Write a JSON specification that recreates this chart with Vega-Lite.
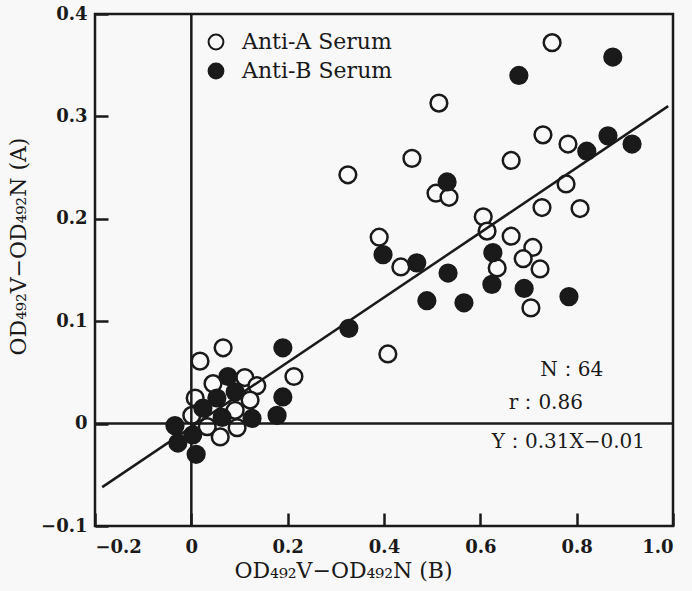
{
  "$schema": "https://vega.github.io/schema/vega-lite/v6.json",
  "width": 578,
  "height": 512,
  "autosize": {"type": "none"},
  "padding": {"left": 95, "top": 14, "right": 19, "bottom": 65},
  "background": "#f8f8f8",
  "config": {
    "view": {"stroke": "#1a1a1a", "strokeWidth": 2.5},
    "font": "DejaVu Serif",
    "axis": {
      "grid": false,
      "domain": false,
      "ticks": true,
      "zindex": 2,
      "offset": -13,
      "tickSize": 13,
      "tickWidth": 2.5,
      "tickColor": "#1a1a1a",
      "tickOpacity": 1,
      "labelFont": "DejaVu Serif",
      "labelFontSize": 18,
      "labelFontWeight": "bold",
      "labelColor": "#1a1a1a",
      "labelPadding": 8,
      "titleFont": "DejaVu Serif",
      "titleFontSize": 22,
      "titleFontWeight": "normal",
      "titleColor": "#1a1a1a"
    },
    "legend": {
      "labelFont": "DejaVu Serif",
      "labelFontSize": 22,
      "labelColor": "#1a1a1a"
    }
  },
  "datasets": {
    "pts": [
      {"x": 0.749, "y": 0.372, "serum": "Anti-A Serum"},
      {"x": 0.514, "y": 0.313, "serum": "Anti-A Serum"},
      {"x": 0.325, "y": 0.243, "serum": "Anti-A Serum"},
      {"x": 0.730, "y": 0.282, "serum": "Anti-A Serum"},
      {"x": 0.782, "y": 0.273, "serum": "Anti-A Serum"},
      {"x": 0.664, "y": 0.257, "serum": "Anti-A Serum"},
      {"x": 0.458, "y": 0.259, "serum": "Anti-A Serum"},
      {"x": 0.508, "y": 0.225, "serum": "Anti-A Serum"},
      {"x": 0.535, "y": 0.221, "serum": "Anti-A Serum"},
      {"x": 0.778, "y": 0.234, "serum": "Anti-A Serum"},
      {"x": 0.728, "y": 0.211, "serum": "Anti-A Serum"},
      {"x": 0.807, "y": 0.210, "serum": "Anti-A Serum"},
      {"x": 0.606, "y": 0.202, "serum": "Anti-A Serum"},
      {"x": 0.614, "y": 0.188, "serum": "Anti-A Serum"},
      {"x": 0.664, "y": 0.183, "serum": "Anti-A Serum"},
      {"x": 0.390, "y": 0.182, "serum": "Anti-A Serum"},
      {"x": 0.435, "y": 0.153, "serum": "Anti-A Serum"},
      {"x": 0.709, "y": 0.172, "serum": "Anti-A Serum"},
      {"x": 0.689, "y": 0.161, "serum": "Anti-A Serum"},
      {"x": 0.724, "y": 0.151, "serum": "Anti-A Serum"},
      {"x": 0.635, "y": 0.152, "serum": "Anti-A Serum"},
      {"x": 0.705, "y": 0.113, "serum": "Anti-A Serum"},
      {"x": 0.408, "y": 0.068, "serum": "Anti-A Serum"},
      {"x": 0.066, "y": 0.074, "serum": "Anti-A Serum"},
      {"x": 0.018, "y": 0.061, "serum": "Anti-A Serum"},
      {"x": 0.213, "y": 0.046, "serum": "Anti-A Serum"},
      {"x": 0.111, "y": 0.045, "serum": "Anti-A Serum"},
      {"x": 0.045, "y": 0.039, "serum": "Anti-A Serum"},
      {"x": 0.136, "y": 0.037, "serum": "Anti-A Serum"},
      {"x": 0.008, "y": 0.025, "serum": "Anti-A Serum"},
      {"x": 0.122, "y": 0.023, "serum": "Anti-A Serum"},
      {"x": 0.091, "y": 0.013, "serum": "Anti-A Serum"},
      {"x": 0.001, "y": 0.008, "serum": "Anti-A Serum"},
      {"x": 0.033, "y": -0.003, "serum": "Anti-A Serum"},
      {"x": 0.095, "y": -0.004, "serum": "Anti-A Serum"},
      {"x": 0.060, "y": -0.013, "serum": "Anti-A Serum"},
      {"x": 0.680, "y": 0.340, "serum": "Anti-B Serum"},
      {"x": 0.875, "y": 0.358, "serum": "Anti-B Serum"},
      {"x": 0.821, "y": 0.266, "serum": "Anti-B Serum"},
      {"x": 0.865, "y": 0.281, "serum": "Anti-B Serum"},
      {"x": 0.915, "y": 0.273, "serum": "Anti-B Serum"},
      {"x": 0.531, "y": 0.236, "serum": "Anti-B Serum"},
      {"x": 0.398, "y": 0.165, "serum": "Anti-B Serum"},
      {"x": 0.468, "y": 0.157, "serum": "Anti-B Serum"},
      {"x": 0.533, "y": 0.147, "serum": "Anti-B Serum"},
      {"x": 0.626, "y": 0.167, "serum": "Anti-B Serum"},
      {"x": 0.624, "y": 0.136, "serum": "Anti-B Serum"},
      {"x": 0.691, "y": 0.132, "serum": "Anti-B Serum"},
      {"x": 0.784, "y": 0.124, "serum": "Anti-B Serum"},
      {"x": 0.489, "y": 0.120, "serum": "Anti-B Serum"},
      {"x": 0.566, "y": 0.118, "serum": "Anti-B Serum"},
      {"x": 0.327, "y": 0.093, "serum": "Anti-B Serum"},
      {"x": 0.190, "y": 0.074, "serum": "Anti-B Serum"},
      {"x": 0.190, "y": 0.026, "serum": "Anti-B Serum"},
      {"x": 0.178, "y": 0.008, "serum": "Anti-B Serum"},
      {"x": 0.076, "y": 0.046, "serum": "Anti-B Serum"},
      {"x": 0.091, "y": 0.031, "serum": "Anti-B Serum"},
      {"x": 0.053, "y": 0.025, "serum": "Anti-B Serum"},
      {"x": 0.024, "y": 0.015, "serum": "Anti-B Serum"},
      {"x": 0.064, "y": 0.006, "serum": "Anti-B Serum"},
      {"x": 0.126, "y": 0.005, "serum": "Anti-B Serum"},
      {"x": -0.034, "y": -0.002, "serum": "Anti-B Serum"},
      {"x": 0.003, "y": -0.011, "serum": "Anti-B Serum"},
      {"x": -0.028, "y": -0.019, "serum": "Anti-B Serum"},
      {"x": 0.010, "y": -0.030, "serum": "Anti-B Serum"}
    ],
    "fit": [
      {"x": -0.185, "y": -0.062},
      {"x": 0.99, "y": 0.31}
    ],
    "notes": [
      {"x": 0.855, "y": 0.052, "label": "N：64"},
      {"x": 0.813, "y": 0.020, "label": "r：0.86"},
      {"x": 0.942, "y": -0.018, "label": "Y：0.31X−0.01"}
    ]
  },
  "layer": [
    {
      "data": {"name": "pts"},
      "mark": {"type": "point", "shape": "circle", "size": 280, "strokeWidth": 2.5, "stroke": "#1a1a1a", "opacity": 1, "filled": false},
      "encoding": {
        "x": {
          "field": "x",
          "type": "quantitative",
          "scale": {"domain": [-0.2, 1.0], "nice": false, "zero": false},
          "axis": {
            "values": [-0.2, 0, 0.2, 0.4, 0.6, 0.8, 1.0],
            "ticks": true,
            "labelPadding": 12,
            "labelExpr": "datum.value == 0 ? '0' : format(datum.value, '.1f')",
            "title": "OD₄₉₂V−OD₄₉₂N (B)",
            "titleX": 248,
            "titleAlign": "center",
            "titlePadding": 4
          }
        },
        "y": {
          "field": "y",
          "type": "quantitative",
          "scale": {"domain": [-0.1, 0.4], "nice": false, "zero": false},
          "axis": {
            "values": [-0.1, 0, 0.1, 0.2, 0.3, 0.4],
            "ticks": true,
            "labelExpr": "datum.value == 0 ? '0' : format(datum.value, '.1f')",
            "title": "OD₄₉₂V−OD₄₉₂N (A)",
            "titleX": -90,
            "titleY": 232,
            "titleAlign": "center",
            "titleBaseline": "middle",
            "titleAngle": -90
          }
        },
        "fill": {
          "field": "serum",
          "type": "nominal",
          "scale": {"domain": ["Anti-A Serum", "Anti-B Serum"], "range": ["#f8f8f8", "#1a1a1a"]},
          "legend": {
            "title": null,
            "orient": "none",
            "legendX": 110,
            "legendY": 17,
            "symbolSize": 220,
            "symbolStrokeColor": "#1a1a1a",
            "symbolStrokeWidth": 2,
            "symbolOpacity": 1,
            "rowPadding": 5,
            "labelOffset": 15
          }
        }
      }
    },
    {
      "data": {"values": [{}]},
      "mark": {"type": "rule", "color": "#1a1a1a", "strokeWidth": 2.5},
      "encoding": {"x": {"datum": 0}}
    },
    {
      "data": {"values": [{}]},
      "mark": {"type": "rule", "color": "#1a1a1a", "strokeWidth": 2.5},
      "encoding": {"y": {"datum": 0}}
    },
    {
      "data": {"name": "fit"},
      "mark": {"type": "line", "color": "#1a1a1a", "strokeWidth": 2.5},
      "encoding": {
        "x": {"field": "x", "type": "quantitative"},
        "y": {"field": "y", "type": "quantitative"}
      }
    },
    {
      "data": {"name": "notes"},
      "mark": {"type": "text", "align": "right", "baseline": "middle", "font": "DejaVu Serif", "fontSize": 20, "color": "#1a1a1a"},
      "encoding": {
        "x": {"field": "x", "type": "quantitative"},
        "y": {"field": "y", "type": "quantitative"},
        "text": {"field": "label"}
      }
    }
  ]
}
